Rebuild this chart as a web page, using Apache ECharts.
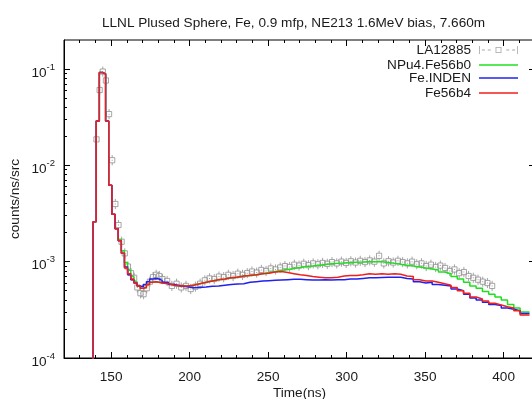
<!DOCTYPE html>
<html><head><meta charset="utf-8">
<script src="https://cdn.jsdelivr.net/npm/echarts@6/dist/echarts.min.js"></script>
<style>html,body{margin:0;padding:0;background:#fff}#c{width:532px;height:399px}</style>
</head><body><div id="c"></div>
<script>
const titleText = 'LLNL Plused Sphere, Fe, 0.9 mfp, NE213 1.6MeV bias, 7.660m';
const seriesNames = ['LA12885', 'NPu4.Fe56b0', 'Fe.INDEN', 'Fe56b4'];
const xMajorTicks = [150, 200, 250, 300, 350, 400];
const xMinorTicks = [130, 140, 160, 170, 180, 190, 210, 220, 230, 240, 260, 270, 280, 290, 310, 320, 330, 340, 360, 370, 380, 390, 410];
const yMajorTicks = [1e-4, 1e-3, 1e-2, 1e-1];
const yMinorTicks = [2e-4, 3e-4, 4e-4, 5e-4, 6e-4, 7e-4, 8e-4, 9e-4,
  2e-3, 3e-3, 4e-3, 5e-3, 6e-3, 7e-3, 8e-3, 9e-3,
  2e-2, 3e-2, 4e-2, 5e-2, 6e-2, 7e-2, 8e-2, 9e-2];

// histogram bin start edges (last entry = final right edge)
const binEdges = [136.5, 138.5, 140.5, 142.5, 144.5, 146.5, 148.5, 150.5, 152.5, 154.5, 156.5, 158.5,
  160.5, 162.5, 164.5, 166.5, 168.5, 170.5, 172.5, 174.5, 176.5, 178.5, 180.5,
  182.5, 186.5, 190.5, 194.5, 198.5, 202.5, 206.5, 210.5, 214.5, 218.5, 222.5, 226.5, 230.5, 234.5,
  238.5, 242.5, 246.5, 250.5, 254.5, 258.5, 262.5, 266.5, 270.5, 274.5, 278.5, 282.5, 286.5, 290.5,
  294.5, 298.5, 302.5, 306.5, 310.5, 314.5, 318.5, 322.5, 326.5, 330.5, 334.5, 338.5, 342.5, 346.5,
  350.5, 354.5, 358.5, 362.5, 366.5, 370.5, 374.5, 378.5, 382.5, 386.5, 390.5, 394.5, 398.5, 402.5,
  406.5, 410.5, 416.5];

const greenVals = [1e-6, 2.6e-3, 0.0288, 0.092, 0.089, 0.0288, 6.2e-3, 3.1e-3, 2.2e-3, 1.7e-3, 1.3e-3, 9.8e-4,
  8.2e-4, 7.0e-4, 6.2e-4, 5.6e-4, 5.3e-4, 5.4e-4, 5.8e-4, 6.1e-4, 6.2e-4, 6.1e-4, 6.0e-4,
  5.9e-4, 5.7e-4, 5.6e-4, 5.6e-4, 5.7e-4, 5.9e-4, 6.1e-4, 6.3e-4, 6.5e-4, 6.6e-4, 6.8e-4, 6.9e-4, 7.1e-4, 7.2e-4,
  7.3e-4, 7.5e-4, 7.7e-4, 7.9e-4, 8.1e-4, 8.3e-4, 8.5e-4, 8.7e-4, 8.9e-4, 9.0e-4, 9.2e-4, 9.35e-4, 9.5e-4, 9.6e-4,
  9.7e-4, 9.8e-4, 9.85e-4, 9.9e-4, 1.0e-3, 1.0e-3, 1.0e-3, 9.8e-4, 9.6e-4, 9.4e-4, 9.2e-4, 9.0e-4, 8.8e-4, 8.6e-4,
  8.4e-4, 8.2e-4, 7.8e-4, 7.5e-4, 7.0e-4, 6.6e-4, 6.1e-4, 5.6e-4, 5.3e-4, 4.9e-4, 4.6e-4, 4.3e-4, 4.0e-4, 3.6e-4,
  3.3e-4, 3.0e-4];

const blueVals = [1e-6, 2.6e-3, 0.0288, 0.092, 0.089, 0.0288, 6.2e-3, 3.1e-3, 2.2e-3, 1.65e-3, 1.22e-3, 8.8e-4,
  7.3e-4, 6.5e-4, 6.0e-4, 5.6e-4, 5.5e-4, 5.8e-4, 6.2e-4, 6.6e-4, 6.7e-4, 6.6e-4, 6.4e-4,
  6.1e-4, 5.8e-4, 5.6e-4, 5.5e-4, 5.35e-4, 5.4e-4, 5.45e-4, 5.55e-4, 5.6e-4, 5.7e-4, 5.8e-4, 5.85e-4, 5.9e-4, 6.1e-4,
  6.2e-4, 6.3e-4, 6.35e-4, 6.4e-4, 6.45e-4, 6.5e-4, 6.55e-4, 6.55e-4, 6.5e-4, 6.45e-4, 6.45e-4, 6.5e-4, 6.45e-4, 6.5e-4,
  6.5e-4, 6.6e-4, 6.6e-4, 6.7e-4, 6.8e-4, 6.8e-4, 6.85e-4, 6.9e-4, 6.9e-4, 6.9e-4, 6.7e-4, 6.6e-4, 6.2e-4, 6.0e-4,
  6.1e-4, 5.8e-4, 5.7e-4, 5.6e-4, 5.2e-4, 5.0e-4, 4.6e-4, 4.2e-4, 4.0e-4, 3.8e-4, 3.6e-4, 3.5e-4, 3.3e-4, 3.2e-4,
  3.1e-4, 2.9e-4];

const redVals = [1e-6, 2.6e-3, 0.0288, 0.092, 0.089, 0.0288, 6.2e-3, 3.1e-3, 2.2e-3, 1.65e-3, 1.22e-3, 8.6e-4,
  7.5e-4, 6.6e-4, 6.0e-4, 5.6e-4, 5.3e-4, 5.4e-4, 5.8e-4, 6.1e-4, 6.2e-4, 6.1e-4, 6.0e-4,
  5.9e-4, 5.7e-4, 5.6e-4, 5.6e-4, 5.7e-4, 5.9e-4, 6.1e-4, 6.3e-4, 6.5e-4, 6.6e-4, 6.8e-4, 6.9e-4, 7.1e-4, 7.2e-4,
  7.3e-4, 7.5e-4, 7.6e-4, 7.8e-4, 7.9e-4, 7.7e-4, 7.5e-4, 7.3e-4, 7.2e-4, 7.0e-4, 6.9e-4, 6.8e-4, 6.8e-4, 6.9e-4,
  7.1e-4, 7.2e-4, 7.2e-4, 7.3e-4, 7.5e-4, 7.4e-4, 7.5e-4, 7.4e-4, 7.5e-4, 7.4e-4, 7.1e-4, 7.0e-4, 6.5e-4, 6.3e-4,
  6.3e-4, 6.1e-4, 5.9e-4, 5.7e-4, 5.4e-4, 5.0e-4, 4.7e-4, 4.3e-4, 4.1e-4, 3.9e-4, 3.7e-4, 3.55e-4, 3.4e-4, 3.3e-4,
  3.1e-4, 2.8e-4];

// experimental data LA12885
const expX = [140.7, 142.7, 144.7, 146.7, 148.7, 150.7, 152.7, 154.7, 156.7, 158.7, 160.7, 162.7, 164.7, 166.7,
  168.7, 170.7, 172.7, 174.7, 176.7, 178.7, 180.7, 182.7,
  185.7, 188.7, 191.7, 194.7, 197.7, 200.7, 203.7, 206.7, 209.7, 212.7, 215.7, 218.7, 221.7, 224.7, 227.7,
  230.7, 233.7, 236.7, 239.7, 242.7, 245.7, 248.7, 251.7, 254.7, 257.7, 260.7, 263.7, 266.7, 269.7, 272.7,
  275.7, 278.7, 281.7, 284.7, 287.7, 290.7, 293.7, 296.7, 299.7, 302.7, 305.7, 308.7, 311.7, 314.7, 317.7,
  320.7, 323.7, 326.7, 329.7, 332.7, 335.7, 338.7, 341.7, 344.7, 347.7, 350.7, 353.7, 356.7, 359.7, 362.7,
  365.7, 368.7, 371.7, 374.7, 377.7, 380.7, 383.7, 386.7, 389.7, 392.7];
const expY = [0.0186, 0.0605, 0.094, 0.076, 0.034, 0.0113, 3.97e-3, 2.4e-3, 1.61e-3, 1.22e-3, 8.9e-4, 7.6e-4, 6.8e-4, 5.4e-4,
  4.7e-4, 4.6e-4, 5.3e-4, 6.2e-4, 6.9e-4, 7.3e-4, 7.1e-4, 6.6e-4,
  6.3e-4, 5.6e-4, 5.9e-4, 5.4e-4, 5.6e-4, 5.2e-4, 5.5e-4, 5.9e-4, 6.4e-4, 6.7e-4, 6.6e-4, 7.0e-4, 6.9e-4, 7.3e-4, 7.1e-4,
  7.5e-4, 7.3e-4, 7.6e-4, 7.9e-4, 7.7e-4, 8.2e-4, 8.0e-4, 8.5e-4, 8.3e-4, 8.7e-4, 9.0e-4, 8.8e-4, 9.3e-4, 9.1e-4, 9.5e-4,
  9.2e-4, 9.6e-4, 9.4e-4, 9.7e-4, 9.5e-4, 9.9e-4, 9.6e-4, 1.0e-3, 9.7e-4, 1.01e-3, 9.8e-4, 1.02e-3, 9.9e-4, 1.03e-3, 1.0e-3,
  1.15e-3, 9.6e-4, 1.01e-3, 9.8e-4, 1.02e-3, 9.9e-4, 9.6e-4, 1.0e-3, 9.4e-4, 9.6e-4, 9.0e-4, 9.3e-4, 8.8e-4, 9.1e-4, 8.6e-4,
  8.0e-4, 8.3e-4, 7.6e-4, 7.8e-4, 7.1e-4, 6.8e-4, 6.5e-4, 6.2e-4, 6.0e-4, 5.6e-4];

const FONT = '"Liberation Sans", Arial, Helvetica, sans-serif';
const TXT = '#1a1a1a';
const FS = 13.6;

function stepData(vals) {
  return binEdges.map((e, i) => [e, i < vals.length ? vals[i] : vals[vals.length - 1]]);
}
const expData = expX.map((x, i) => [x, expY[i]]);

const dataIcon = 'path://M0 0h0.8v8h-0.8z M3 3.6h3v0.8h-3z M9 3.6h3v0.8h-3z M17 1h6v6h-6z M17.8 1.8v4.4h4.4v-4.4z M28 3.6h3v0.8h-3z M34 3.6h3v0.8h-3z M39.2 0h0.8v8h-0.8z';

const chart = echarts.init(document.getElementById('c'), null, {renderer: 'canvas'});

function legendFor(name, top, icon, h) {
  return {
    data: [{name: name, icon: icon}], right: 14, top: top, orient: 'vertical', align: 'right', padding: 0,
    itemWidth: 39, itemHeight: h, selectedMode: false,
    textStyle: {fontSize: FS, color: TXT, fontFamily: FONT, lineHeight: 14, padding: [0, 3, 0, 0]}
  };
}

const lineCommon = {
  type: 'line', step: 'end', symbol: 'none', showSymbol: false, clip: true, animation: false,
  xAxisIndex: 0, yAxisIndex: 0
};

chart.setOption({
  animation: false,
  backgroundColor: '#fff',
  title: {text: titleText, left: 97, top: 11, textStyle: {fontSize: FS, fontWeight: 'normal', color: TXT, fontFamily: FONT}},
  grid: {left: 64, top: 40, width: 471, height: 318, show: true, borderColor: '#000', borderWidth: 1,
    backgroundColor: 'transparent', containLabel: false, outerBoundsMode: 'none'},
  legend: [
    legendFor(seriesNames[0], 43, dataIcon, 8),
    legendFor(seriesNames[1], 58, 'rect', 1.6),
    legendFor(seriesNames[2], 71, 'rect', 1.6),
    legendFor(seriesNames[3], 86, 'rect', 1.6)
  ],
  xAxis: [
    {type: 'value', min: 120, max: 420, position: 'bottom',
      axisLine: {show: true, onZero: false, lineStyle: {color: '#000', width: 1}},
      axisTick: {show: true, inside: true, length: 6, customValues: xMajorTicks, lineStyle: {color: '#000'}},
      axisLabel: {customValues: xMajorTicks, margin: 12, color: TXT, fontSize: FS, fontFamily: FONT},
      splitLine: {show: false},
      name: 'Time(ns)', nameLocation: 'middle', nameGap: 28, nameMoveOverlap: false,
      nameTextStyle: {fontSize: FS, color: TXT, fontFamily: FONT}},
    {type: 'value', min: 120, max: 420, position: 'bottom',
      axisLine: {show: false, onZero: false},
      axisTick: {show: true, inside: true, length: 3, customValues: xMinorTicks, lineStyle: {color: '#000'}},
      axisLabel: {show: false}, splitLine: {show: false}},
    {type: 'value', min: 120, max: 420, position: 'top',
      axisLine: {show: false, onZero: false},
      axisTick: {show: true, inside: true, length: 6, customValues: xMajorTicks, lineStyle: {color: '#000'}},
      axisLabel: {show: false}, splitLine: {show: false}},
    {type: 'value', min: 120, max: 420, position: 'top',
      axisLine: {show: false, onZero: false},
      axisTick: {show: true, inside: true, length: 3, customValues: xMinorTicks, lineStyle: {color: '#000'}},
      axisLabel: {show: false}, splitLine: {show: false}}
  ],
  yAxis: [
    {type: 'log', logBase: 10, min: 1e-4, max: 0.2, position: 'left',
      axisLine: {show: true, onZero: false, lineStyle: {color: '#000', width: 1}},
      axisTick: {show: true, inside: true, length: 6, customValues: yMajorTicks, lineStyle: {color: '#000'}},
      axisLabel: {customValues: yMajorTicks, margin: 9, color: TXT, fontFamily: FONT, padding: [2, 0, 0, 0],
        formatter: function (v) {
          const e = Math.round(Math.log10(v));
          if (Math.abs(Math.log10(v) - e) > 1e-6) return '';
          return '{b|10}{s|' + e + '}';
        },
        rich: {b: {fontSize: FS, color: TXT, fontFamily: FONT, padding: [6, 0, 0, 0]},
               s: {fontSize: 9.5, color: TXT, fontFamily: FONT, padding: [0, 0, 6, 0]}}},
      splitLine: {show: false},
      name: 'counts/ns/src', nameLocation: 'middle', nameGap: 42, nameRotate: 90, nameMoveOverlap: false,
      nameTextStyle: {fontSize: FS, color: TXT, fontFamily: FONT}},
    {type: 'log', logBase: 10, min: 1e-4, max: 0.2, position: 'left',
      axisLine: {show: false, onZero: false},
      axisTick: {show: true, inside: true, length: 3, customValues: yMinorTicks, lineStyle: {color: '#000'}},
      axisLabel: {show: false}, splitLine: {show: false}},
    {type: 'log', logBase: 10, min: 1e-4, max: 0.2, position: 'right',
      axisLine: {show: false, onZero: false},
      axisTick: {show: true, inside: true, length: 6, customValues: yMajorTicks, lineStyle: {color: '#000'}},
      axisLabel: {show: false}, splitLine: {show: false}}
  ],
  series: [
    {name: seriesNames[0], type: 'custom', xAxisIndex: 0, yAxisIndex: 0, clip: true,
      itemStyle: {color: '#a5a5a5'},
      encode: {x: 0, y: 1},
      data: expData,
      renderItem: function (params, api) {
        const p = api.coord([api.value(0), api.value(1)]);
        const s = 2.6;
        const st = {stroke: '#8f8f8f', lineWidth: 0.8, fill: null};
        return {type: 'group', children: [
          {type: 'rect', shape: {x: p[0] - s, y: p[1] - s, width: 2 * s, height: 2 * s}, style: st},
          {type: 'line', shape: {x1: p[0], y1: p[1] - s - 2.5, x2: p[0], y2: p[1] - s}, style: st},
          {type: 'line', shape: {x1: p[0], y1: p[1] + s, x2: p[0], y2: p[1] + s + 2.5}, style: st},
          {type: 'rect', shape: {x: p[0] - 0.5, y: p[1] - 0.5, width: 1, height: 1}, style: {fill: '#a0a0a0'}}
        ]};
      }},
    Object.assign({}, lineCommon, {name: seriesNames[1], data: stepData(greenVals),
      lineStyle: {color: '#1ee01e', width: 1.5}, itemStyle: {color: '#1ee01e'}}),
    Object.assign({}, lineCommon, {name: seriesNames[2], data: stepData(blueVals),
      lineStyle: {color: '#2020f0', width: 1.5}, itemStyle: {color: '#2020f0'}}),
    Object.assign({}, lineCommon, {name: seriesNames[3], data: stepData(redVals),
      lineStyle: {color: '#f01e1e', width: 1.5}, itemStyle: {color: '#f01e1e'}})
  ]
});
</script>
</body></html>
